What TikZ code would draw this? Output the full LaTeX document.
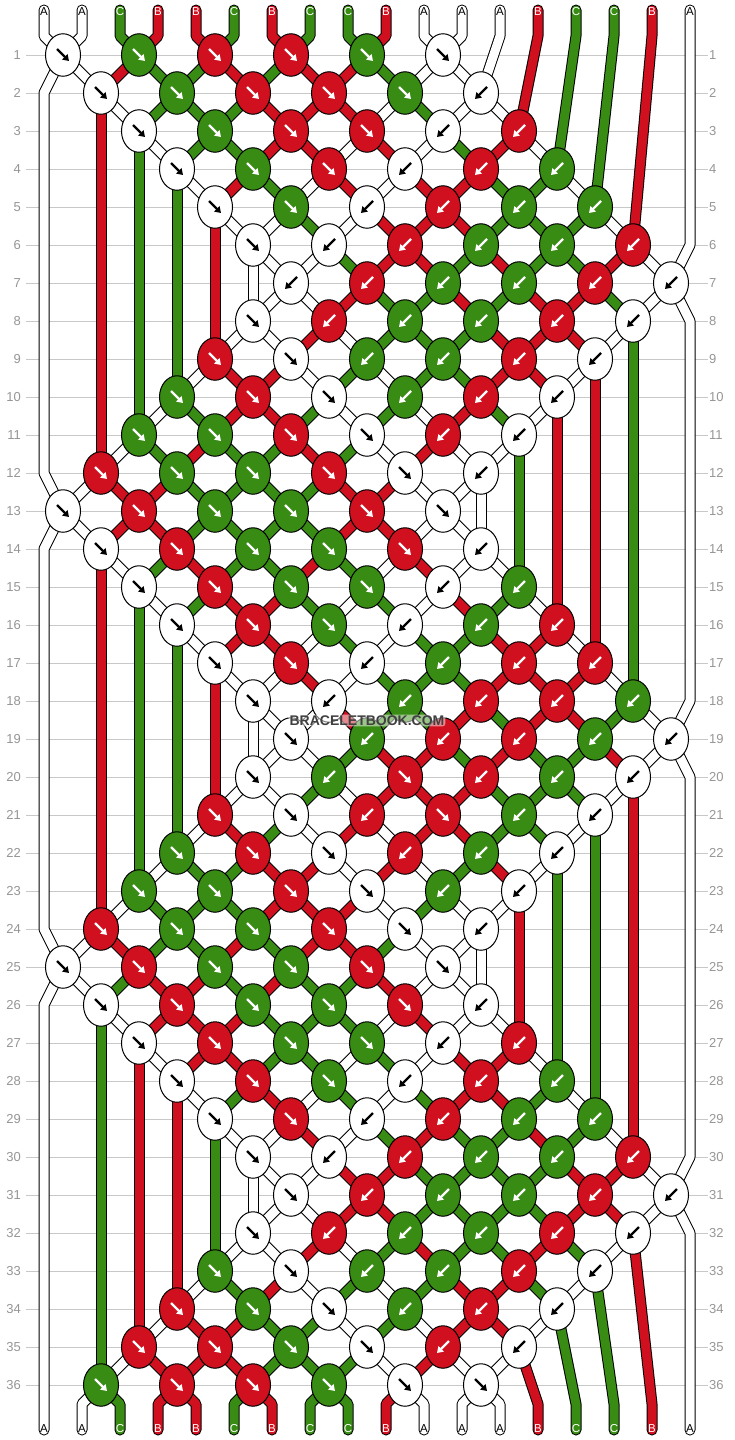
\documentclass[tikz,border=0pt]{standalone}
\usepackage{fontspec}
\setmainfont{Liberation Sans}
\usetikzlibrary{arrows.meta,shapes.geometric}
\definecolor{cA}{RGB}{255,255,255}
\definecolor{cB}{RGB}{208,16,30}
\definecolor{cC}{RGB}{56,140,20}
\definecolor{gridc}{RGB}{200,200,200}
\definecolor{numc}{RGB}{150,150,150}
\definecolor{wmc}{RGB}{64,64,64}
\def\setv#1#2#3{\expandafter\xdef\csname bbv#1x#2\endcsname{#3}}
\def\getv#1#2{\csname bbv#1x#2\endcsname}
\newif\ifthreadmode
\def\initlist{0/A,1/A,2/C,3/B,4/B,5/C,6/B,7/C,8/C,9/B,10/A,11/A,12/A,13/B,14/C,15/C,16/B,17/A}
\tikzset{
  thread/.style={draw=black, line width=1pt, double=#1, double distance=9pt, line join=round, line cap=round},
  knot/.style={ellipse, draw=black, line width=1pt, minimum width=35pt, minimum height=42.5pt, inner sep=0pt},
  knotarrow/.style={line width=2.4pt, -{Triangle[length=6pt,width=7.5pt]}},
  lbl/.style={inner sep=0pt, font=\fontsize{11.5}{11.5}\selectfont},
  num/.style={inner sep=0pt, text=numc, font=\fontsize{13}{13}\selectfont},
  rowline/.style={draw=gridc, line width=1pt},
  wmfont/.style={inner sep=1pt, rounded corners=3pt, fill=white, fill opacity=0.5, text opacity=1, font=\bfseries\fontsize{14}{14}\selectfont},
}
\newcommand\initcols{%
  \foreach \p/\ini in \initlist {%
    \setv{col}{\p}{\ini}\setv{lt}{\p}{0}\setv{lx}{\p}{0}\setv{ly}{\p}{0}}}
\newcommand\drawseg[3]{%
  \edef\segc{\getv{col}{#1}}%
  \edef\segt{\getv{lt}{#1}}%
  \edef\segx{\getv{lx}{#1}}%
  \edef\segy{\getv{ly}{#1}}%
  \pgfmathsetmacro\xp{44+38*#1}%
  \def\isedge{0}%
  \ifnum#1=0 \def\isedge{1}\fi
  \ifnum#1=17 \def\isedge{1}\fi
  \edef\tc{c\segc}%
  \ifnum\segt=0
    \ifnum\isedge=1 \pgfmathsetmacro\by{max(36,#3-38)}\else\def\by{36}\fi
    \draw[thread=\tc] (\xp,10) -- (\xp,\by) -- (#2,#3);%
  \else
    \ifnum\isedge=1
      \pgfmathsetmacro\ya{\segy+38}\pgfmathsetmacro\yb{#3-38}%
      \draw[thread=\tc] (\segx,\segy) -- (\xp,\ya) -- (\xp,\yb) -- (#2,#3);%
    \else
      \pgfmathsetmacro\yb{#3-38}%
      \ifdim\yb pt>\segy pt
        \draw[thread=\tc] (\segx,\segy) -- (\segx,\yb) -- (#2,#3);%
      \else
        \draw[thread=\tc] (\segx,\segy) -- (#2,#3);%
      \fi
    \fi
  \fi}
\newcommand\doknot[3]{%
  \pgfmathsetmacro\kx{63+38*#2}%
  \pgfmathsetmacro\ky{55+38*(#1-1)}%
  \pgfmathtruncatemacro\pL{#2}%
  \pgfmathtruncatemacro\pR{#2+1}%
  \ifthreadmode
    \drawseg{\pL}{\kx}{\ky}%
    \drawseg{\pR}{\kx}{\ky}%
  \fi
  \edef\colL{\getv{col}{\pL}}%
  \edef\colR{\getv{col}{\pR}}%
  \if#3f\edef\kc{\colL}\else\edef\kc{\colR}\fi
  \setv{col}{\pL}{\colR}\setv{col}{\pR}{\colL}%
  \setv{lx}{\pL}{\kx}\setv{ly}{\pL}{\ky}\setv{lt}{\pL}{1}%
  \setv{lx}{\pR}{\kx}\setv{ly}{\pR}{\ky}\setv{lt}{\pR}{1}%
  \ifthreadmode\else
    \edef\kfill{c\kc}%
    \if\kc A\def\ac{black}\else\def\ac{white}\fi
    \node[knot, fill=\kfill] (k#1-#2) at (\kx,\ky) {};
    \if#3f
      \draw[knotarrow, draw=\ac] (\kx-6,\ky-6) -- (\kx+6,\ky+6);
    \else
      \draw[knotarrow, draw=\ac] (\kx+6,\ky-6) -- (\kx-6,\ky+6);
    \fi
  \fi}
\newcommand\knotrow[2]{\foreach \kk/\kt in {#2}{\doknot{#1}{\kk}{\kt}}}
\newcommand\bbrows{%
\knotrow{1}{0/f,2/f,4/f,6/f,8/f,10/f}%
\knotrow{2}{1/f,3/f,5/f,7/f,9/f,11/b}%
\knotrow{3}{2/f,4/f,6/f,8/f,10/b,12/b}%
\knotrow{4}{3/f,5/f,7/f,9/b,11/b,13/b}%
\knotrow{5}{4/f,6/f,8/b,10/b,12/b,14/b}%
\knotrow{6}{5/f,7/b,9/b,11/b,13/b,15/b}%
\knotrow{7}{6/b,8/b,10/b,12/b,14/b,16/b}%
\knotrow{8}{5/f,7/b,9/b,11/b,13/b,15/b}%
\knotrow{9}{4/f,6/f,8/b,10/b,12/b,14/b}%
\knotrow{10}{3/f,5/f,7/f,9/b,11/b,13/b}%
\knotrow{11}{2/f,4/f,6/f,8/f,10/b,12/b}%
\knotrow{12}{1/f,3/f,5/f,7/f,9/f,11/b}%
\knotrow{13}{0/f,2/f,4/f,6/f,8/f,10/f}%
\knotrow{14}{1/f,3/f,5/f,7/f,9/f,11/b}%
\knotrow{15}{2/f,4/f,6/f,8/f,10/b,12/b}%
\knotrow{16}{3/f,5/f,7/f,9/b,11/b,13/b}%
\knotrow{17}{4/f,6/f,8/b,10/b,12/b,14/b}%
\knotrow{18}{5/f,7/b,9/b,11/b,13/b,15/b}%
\knotrow{19}{6/f,8/b,10/b,12/b,14/b,16/b}%
\knotrow{20}{5/f,7/b,9/f,11/b,13/b,15/b}%
\knotrow{21}{4/f,6/f,8/b,10/f,12/b,14/b}%
\knotrow{22}{3/f,5/f,7/f,9/b,11/b,13/b}%
\knotrow{23}{2/f,4/f,6/f,8/f,10/b,12/b}%
\knotrow{24}{1/f,3/f,5/f,7/f,9/f,11/b}%
\knotrow{25}{0/f,2/f,4/f,6/f,8/f,10/f}%
\knotrow{26}{1/f,3/f,5/f,7/f,9/f,11/b}%
\knotrow{27}{2/f,4/f,6/f,8/f,10/b,12/b}%
\knotrow{28}{3/f,5/f,7/f,9/b,11/b,13/b}%
\knotrow{29}{4/f,6/f,8/b,10/b,12/b,14/b}%
\knotrow{30}{5/f,7/b,9/b,11/b,13/b,15/b}%
\knotrow{31}{6/f,8/b,10/b,12/b,14/b,16/b}%
\knotrow{32}{5/f,7/b,9/b,11/b,13/b,15/b}%
\knotrow{33}{4/f,6/f,8/b,10/b,12/b,14/b}%
\knotrow{34}{3/f,5/f,7/f,9/b,11/b,13/b}%
\knotrow{35}{2/f,4/f,6/f,8/f,10/b,12/b}%
\knotrow{36}{1/f,3/f,5/f,7/f,9/f,11/f}%
}
\newcommand\bbfinish{%
  \foreach \p in {0,...,17}{%
    \edef\segc{\getv{col}{\p}}\edef\segx{\getv{lx}{\p}}\edef\segy{\getv{ly}{\p}}%
    \edef\tc{c\segc}%
    \pgfmathsetmacro\xp{44+38*\p}%
    \def\isedge{0}\ifnum\p=0 \def\isedge{1}\fi\ifnum\p=17 \def\isedge{1}\fi
    \ifnum\isedge=1 \pgfmathsetmacro\by{min(1404,\segy+38)}\else\def\by{1404}\fi
    \draw[thread=\tc] (\segx,\segy) -- (\xp,\by) -- (\xp,1430);
    \if\segc A\def\lc{black}\else\def\lc{white}\fi
    \node[lbl, text=\lc] (bl\p) at (\xp,1429) {\segc};
  }}
\newcommand\bbtoplabels{%
  \foreach \p/\ini in \initlist {%
    \pgfmathsetmacro\xp{44+38*\p}%
    \if\ini A\def\lc{black}\else\def\lc{white}\fi
    \node[lbl, text=\lc] (tl\p) at (\xp,12) {\ini};}}
\begin{document}
\begin{tikzpicture}[x=1pt,y=-1pt]
\useasboundingbox (0,0) rectangle (734,1440);
\fill[white] (0,0) rectangle (734,1440);
\foreach \r in {1,...,36}{%
  \pgfmathsetmacro\yy{55+38*(\r-1)}%
  \draw[rowline] (26,\yy) -- (708,\yy);
  \node[num, anchor=east] (nl\r) at (21,\yy) {\r};
  \node[num, anchor=west] (nr\r) at (709,\yy) {\r};
}
\threadmodetrue
\initcols
\bbrows
\bbfinish
\bbtoplabels
\threadmodefalse
\initcols
\bbrows
\node[wmfont, text=wmc] (wm) at (367,720.5) {BRACELETBOOK.COM};
\end{tikzpicture}
\end{document}
